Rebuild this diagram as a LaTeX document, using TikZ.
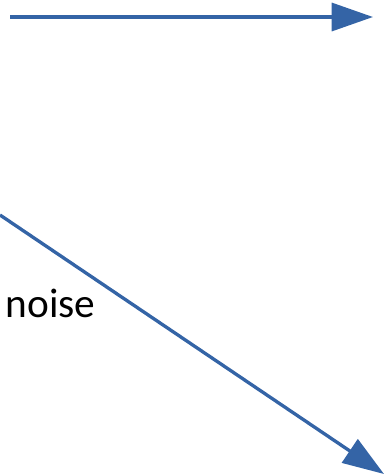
\documentclass[tikz,border=0pt]{standalone}
\usepackage{fontspec}
\setmainfont{Carlito}
\usetikzlibrary{arrows.meta}
\definecolor{arrowblue}{RGB}{52,100,166}

\begin{document}
\begin{tikzpicture}[x=0.75pt, y=-0.75pt, line width=2.5pt,
    sig/.style={draw=arrowblue, -{Triangle[length=31pt,width=21pt]}}]
    \useasboundingbox (0,0) rectangle (384,476);

    \coordinate (S1) at (10,17);
    \coordinate (E1) at (373,17);
    \coordinate (S2) at (0,215);
    \coordinate (E2) at (384,474);

    \draw[sig] (S1) -- (E1);
    \draw[sig] (S2) -- (E2);

    \node[anchor=base west, inner sep=0pt, font=\fontsize{31}{37}\selectfont] (N) at (4,317) {noise};
\end{tikzpicture}
\end{document}
